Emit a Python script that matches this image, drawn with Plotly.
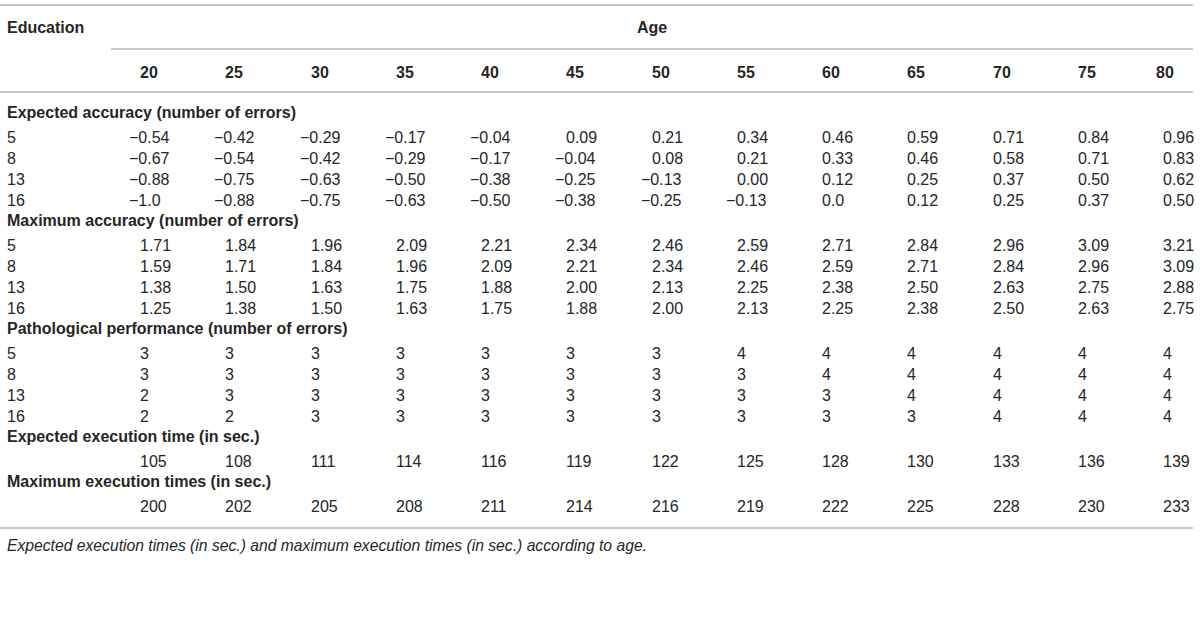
import plotly.graph_objects as go

ages = [20, 25, 30, 35, 40, 45, 50, 55, 60, 65, 70, 75, 80]
education = [5, 8, 13, 16]

expected_accuracy = [
    ["−0.54", "−0.42", "−0.29", "−0.17", "−0.04", "0.09", "0.21", "0.34", "0.46", "0.59", "0.71", "0.84", "0.96"],
    ["−0.67", "−0.54", "−0.42", "−0.29", "−0.17", "−0.04", "0.08", "0.21", "0.33", "0.46", "0.58", "0.71", "0.83"],
    ["−0.88", "−0.75", "−0.63", "−0.50", "−0.38", "−0.25", "−0.13", "0.00", "0.12", "0.25", "0.37", "0.50", "0.62"],
    ["−1.0", "−0.88", "−0.75", "−0.63", "−0.50", "−0.38", "−0.25", "−0.13", "0.0", "0.12", "0.25", "0.37", "0.50"],
]
maximum_accuracy = [
    ["1.71", "1.84", "1.96", "2.09", "2.21", "2.34", "2.46", "2.59", "2.71", "2.84", "2.96", "3.09", "3.21"],
    ["1.59", "1.71", "1.84", "1.96", "2.09", "2.21", "2.34", "2.46", "2.59", "2.71", "2.84", "2.96", "3.09"],
    ["1.38", "1.50", "1.63", "1.75", "1.88", "2.00", "2.13", "2.25", "2.38", "2.50", "2.63", "2.75", "2.88"],
    ["1.25", "1.38", "1.50", "1.63", "1.75", "1.88", "2.00", "2.13", "2.25", "2.38", "2.50", "2.63", "2.75"],
]
pathological = [
    [3, 3, 3, 3, 3, 3, 3, 4, 4, 4, 4, 4, 4],
    [3, 3, 3, 3, 3, 3, 3, 3, 4, 4, 4, 4, 4],
    [2, 3, 3, 3, 3, 3, 3, 3, 3, 4, 4, 4, 4],
    [2, 2, 3, 3, 3, 3, 3, 3, 3, 3, 4, 4, 4],
]
expected_time = [105, 108, 111, 114, 116, 119, 122, 125, 128, 130, 133, 136, 139]
maximum_time = [200, 202, 205, 208, 211, 214, 216, 219, 222, 225, 228, 230, 233]

sections = [
    ("Expected accuracy (number of errors)", education, expected_accuracy),
    ("Maximum accuracy (number of errors)", education, maximum_accuracy),
    ("Pathological performance (number of errors)", education, pathological),
    ("Expected execution time (in sec.)", [""], [expected_time]),
    ("Maximum execution times (in sec.)", [""], [maximum_time]),
]
caption = "Expected execution times (in sec.) and maximum execution times (in sec.) according to age."

W, H = 1200, 643
FONT = "Liberation Sans, Arial, Helvetica, sans-serif"
TXT = "#262626"
LINE = "#c9c9c9"
FS = 16

# x axis in "age" units mapped onto pixels
px_per_age = 85.25 / 5
x0_px = 138
xmin = ages[0] - x0_px / px_per_age
xmax = ages[0] + (W - x0_px) / px_per_age

ann = []

def add(text, x, y, xref="x", bold=False, italic=False, xanchor="left", xshift=0, size=FS):
    t = str(text)
    if bold:
        t = "<b>" + t + "</b>"
    if italic:
        t = "<i>" + t + "</i>"
    ann.append(dict(text=t, x=x, y=y, xref=xref, yref="y", xanchor=xanchor, yanchor="middle",
                    showarrow=False, xshift=xshift, font=dict(family=FONT, size=size, color=TXT)))

LX = 5 / W  # left text column

# header
add("Education", LX, 27, xref="paper", bold=True)
add("Age", (111 + 1193) / 2 / W, 27, xref="paper", bold=True, xanchor="center")
for i, a in enumerate(ages):
    add(a, a, 72, bold=True, xshift=-7 if i == len(ages) - 1 else 0)

# body rows
y = 112
for si, (title, labels, values) in enumerate(sections):
    add(title, LX, y, xref="paper", bold=True)
    y += 25
    for lab, vals in zip(labels, values):
        if lab != "":
            add(lab, LX, y, xref="paper")
        for a, v in zip(ages, vals):
            s = str(v)
            add(s, a, y, xshift=-11 if s.startswith("−") else 0)
        y += 21
    y -= 1

# caption
add(caption, LX, 545, xref="paper", italic=True, size=15.7)

shapes = [
    dict(type="line", xref="paper", yref="y", x0=0, x1=1193 / W, y0=5, y1=5, line=dict(color=LINE, width=2)),
    dict(type="line", xref="paper", yref="y", x0=111 / W, x1=1193 / W, y0=49, y1=49, line=dict(color=LINE, width=2)),
    dict(type="line", xref="paper", yref="y", x0=0, x1=1193 / W, y0=92, y1=92, line=dict(color=LINE, width=2)),
    dict(type="line", xref="paper", yref="y", x0=0, x1=1193 / W, y0=528, y1=528, line=dict(color=LINE, width=2)),
]

fig = go.Figure()
fig.add_trace(go.Scatter(x=[], y=[], mode="markers", hoverinfo="skip", showlegend=False))
fig.update_layout(
    width=W, height=H,
    margin=dict(l=0, r=0, t=0, b=0),
    paper_bgcolor="white", plot_bgcolor="white",
    xaxis=dict(range=[xmin, xmax], visible=False, fixedrange=True),
    yaxis=dict(range=[H, 0], visible=False, fixedrange=True),
    annotations=ann, shapes=shapes, showlegend=False,
)
fig.write_html("out.html", config={"displayModeBar": False},
               post_script="document.body.style.margin='0';document.body.style.overflow='hidden';")
